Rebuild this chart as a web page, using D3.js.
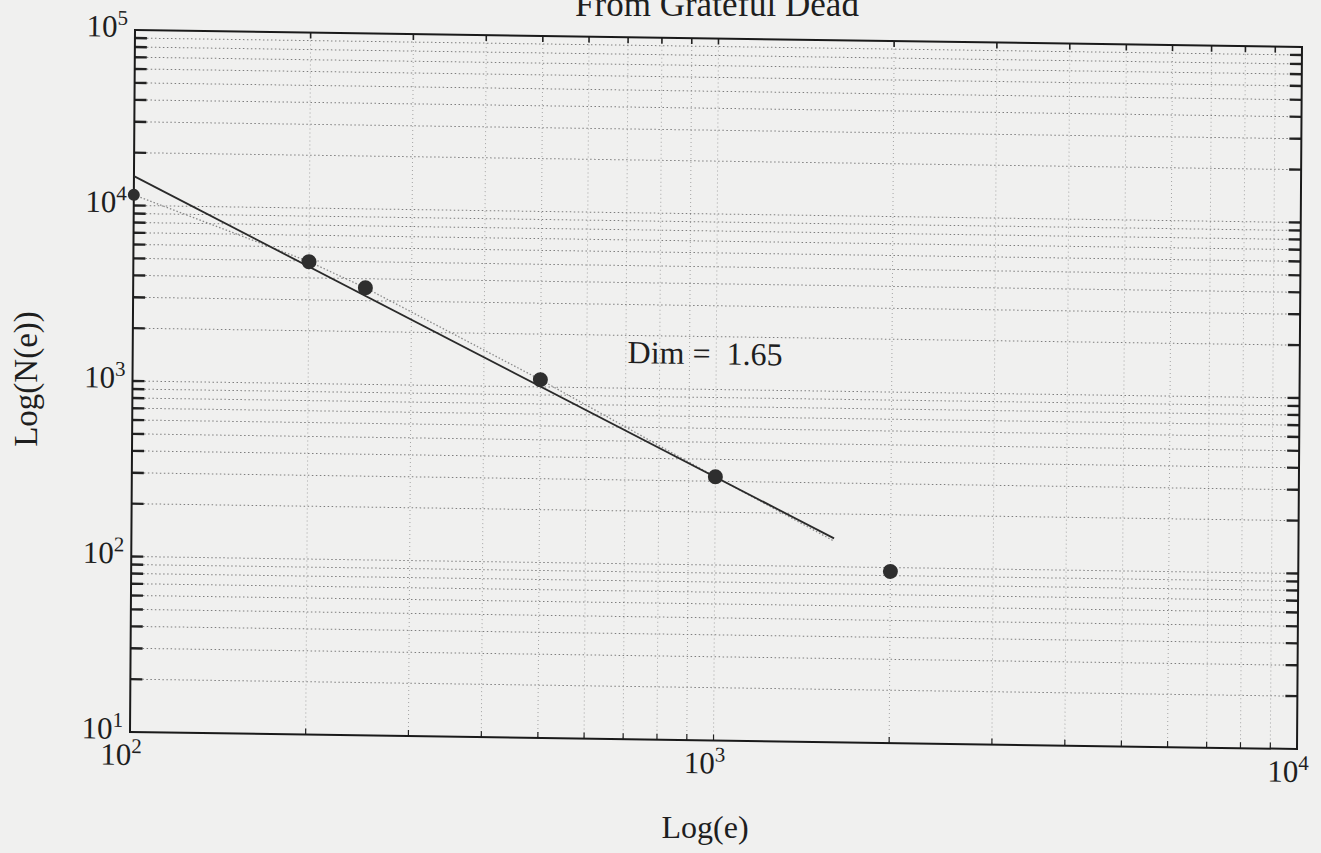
<!DOCTYPE html>
<html>
<head>
<meta charset="utf-8">
<script src="https://cdn.jsdelivr.net/npm/d3@7"></script>
<style>
  body { margin: 0; background: #f0f0ef; }
  svg { display: block; }
  text { font-family: "Liberation Serif", "DejaVu Serif", serif; }
</style>
</head>
<body>
<script>
// Data {{{1
const epsilon = [100, 200, 250, 500, 1000, 2000];
const counts = [11500, 4950, 3550, 1100, 318, 95];
const fitX = [100, 1600];
const fitY = [14700, 145];
// dotted curve joining the points, stopping short of the last one
const trendX = [100, 200, 250, 500, 1000, 1600];
const trendY = [11500, 4950, 3550, 1100, 318, 140];
const xTickValues = [100, 1000, 10000];
const xTickExp = ["2", "3", "4"];
const yTickValues = [10, 100, 1000, 10000, 100000];
const yTickExp = ["1", "2", "3", "4", "5"];
const dimLabel = "Dim =  1.65";
const dimAt = [705, 1390];

// Main {{{1
const width = 1321, height = 853;
const W = 1167, H = 702;
const serif = "Liberation Serif, DejaVu Serif, serif";

const svg = d3.select("body").append("svg")
    .attr("width", width)
    .attr("height", height)
    .attr("font-family", serif);

// the scanned page is slightly skewed, so the plot sits in a tilted group
const plot = svg.append("g")
    .attr("transform", "matrix(1,0.01457,-0.00712,1,135,30)");

const x = d3.scaleLog().domain([100, 10000]).range([0, W]);
const y = d3.scaleLog().domain([10, 100000]).range([H, 0]);

const xMinor = x.ticks().filter((d) => d > 100 && d < 10000);
const yMinor = y.ticks().filter((d) => d > 10 && d < 100000);

// grid
plot.append("g")
    .selectAll("line")
    .data(xMinor)
    .join("line")
    .attr("x1", (d) => x(d)).attr("x2", (d) => x(d))
    .attr("y1", 0).attr("y2", H)
    .attr("stroke", "#a4a4a4")
    .attr("stroke-width", 1)
    .attr("stroke-dasharray", "1,3");

plot.append("g")
    .selectAll("line")
    .data(yMinor)
    .join("line")
    .attr("x1", 0).attr("x2", W)
    .attr("y1", (d) => y(d)).attr("y2", (d) => y(d))
    .attr("stroke", "#7e7e7e")
    .attr("stroke-width", 1)
    .attr("stroke-dasharray", "1.5,2.5");

// ticks on the left and right sides
plot.append("g")
    .selectAll("line")
    .data(yMinor)
    .join("line")
    .attr("x1", 0).attr("x2", 12)
    .attr("y1", (d) => y(d)).attr("y2", (d) => y(d))
    .attr("stroke", "#222").attr("stroke-width", 2.4);

plot.append("g")
    .selectAll("line")
    .data(yMinor)
    .join("line")
    .attr("x1", W - 12).attr("x2", W)
    .attr("y1", (d) => y(d)).attr("y2", (d) => y(d))
    .attr("stroke", "#222").attr("stroke-width", 2.4);

// ticks on top and bottom
plot.append("g")
    .selectAll("line")
    .data(xMinor)
    .join("line")
    .attr("x1", (d) => x(d)).attr("x2", (d) => x(d))
    .attr("y1", 0).attr("y2", 6)
    .attr("stroke", "#222").attr("stroke-width", 1.6);

plot.append("g")
    .selectAll("line")
    .data(xMinor)
    .join("line")
    .attr("x1", (d) => x(d)).attr("x2", (d) => x(d))
    .attr("y1", H - 6).attr("y2", H)
    .attr("stroke", "#222").attr("stroke-width", 1.2);

// frame
plot.append("rect")
    .attr("x", 0).attr("y", 0)
    .attr("width", W).attr("height", H)
    .attr("fill", "none")
    .attr("stroke", "#1a1a1a")
    .attr("stroke-width", 2);

// tick labels
const yLabels = plot.append("g")
    .selectAll("text")
    .data(yTickValues)
    .join("text")
    .attr("x", -7)
    .attr("y", (d) => y(d) + 7)
    .attr("text-anchor", "end")
    .attr("font-size", 31)
    .attr("fill", "#1e1e1e");
yLabels.append("tspan").text("10");
yLabels.append("tspan")
    .attr("font-size", 21)
    .attr("dy", -12)
    .text((d, i) => yTickExp[i]);

const xLabels = plot.append("g")
    .selectAll("text")
    .data(xTickValues)
    .join("text")
    .attr("x", (d) => x(d) + 12)
    .attr("y", H + 33)
    .attr("text-anchor", "end")
    .attr("font-size", 31)
    .attr("fill", "#1e1e1e");
xLabels.append("tspan").text("10");
xLabels.append("tspan")
    .attr("font-size", 21)
    .attr("dy", -12)
    .text((d, i) => xTickExp[i]);

// lines
const line = d3.line().x((d) => x(d[0])).y((d) => y(d[1]));

plot.append("path")
    .datum(d3.zip(trendX, trendY))
    .attr("d", line)
    .attr("fill", "none")
    .attr("stroke", "#8a8a8a")
    .attr("stroke-width", 1.3)
    .attr("stroke-dasharray", "1.5,2");

plot.append("path")
    .datum(d3.zip(fitX, fitY))
    .attr("d", line)
    .attr("fill", "none")
    .attr("stroke", "#2a2a2a")
    .attr("stroke-width", 1.8);

// points
plot.append("g")
    .selectAll("circle")
    .data(d3.zip(epsilon, counts))
    .join("circle")
    .attr("cx", (d) => x(d[0]))
    .attr("cy", (d) => y(d[1]))
    .attr("r", (d, i) => i == 0 ? 6 : 7.5)
    .attr("fill", "#2e2e2e");

// annotation
plot.append("text")
    .attr("x", x(dimAt[0]))
    .attr("y", y(dimAt[1]))
    .attr("font-size", 32)
    .attr("fill", "#1e1e1e")
    .attr("xml:space", "preserve")
    .style("white-space", "pre")
    .text(dimLabel);

// titles
svg.append("text")
    .attr("x", 717).attr("y", 16)
    .attr("text-anchor", "middle")
    .attr("font-size", 35)
    .attr("fill", "#1e1e1e")
    .text("From Grateful Dead");

svg.append("text")
    .attr("transform", "translate(37,379) rotate(-90)")
    .attr("text-anchor", "middle")
    .attr("font-size", 33)
    .attr("fill", "#1e1e1e")
    .text("Log(N(e))");

svg.append("text")
    .attr("x", 705).attr("y", 838)
    .attr("text-anchor", "middle")
    .attr("font-size", 32)
    .attr("fill", "#1e1e1e")
    .text("Log(e)");
</script>
</body>
</html>
